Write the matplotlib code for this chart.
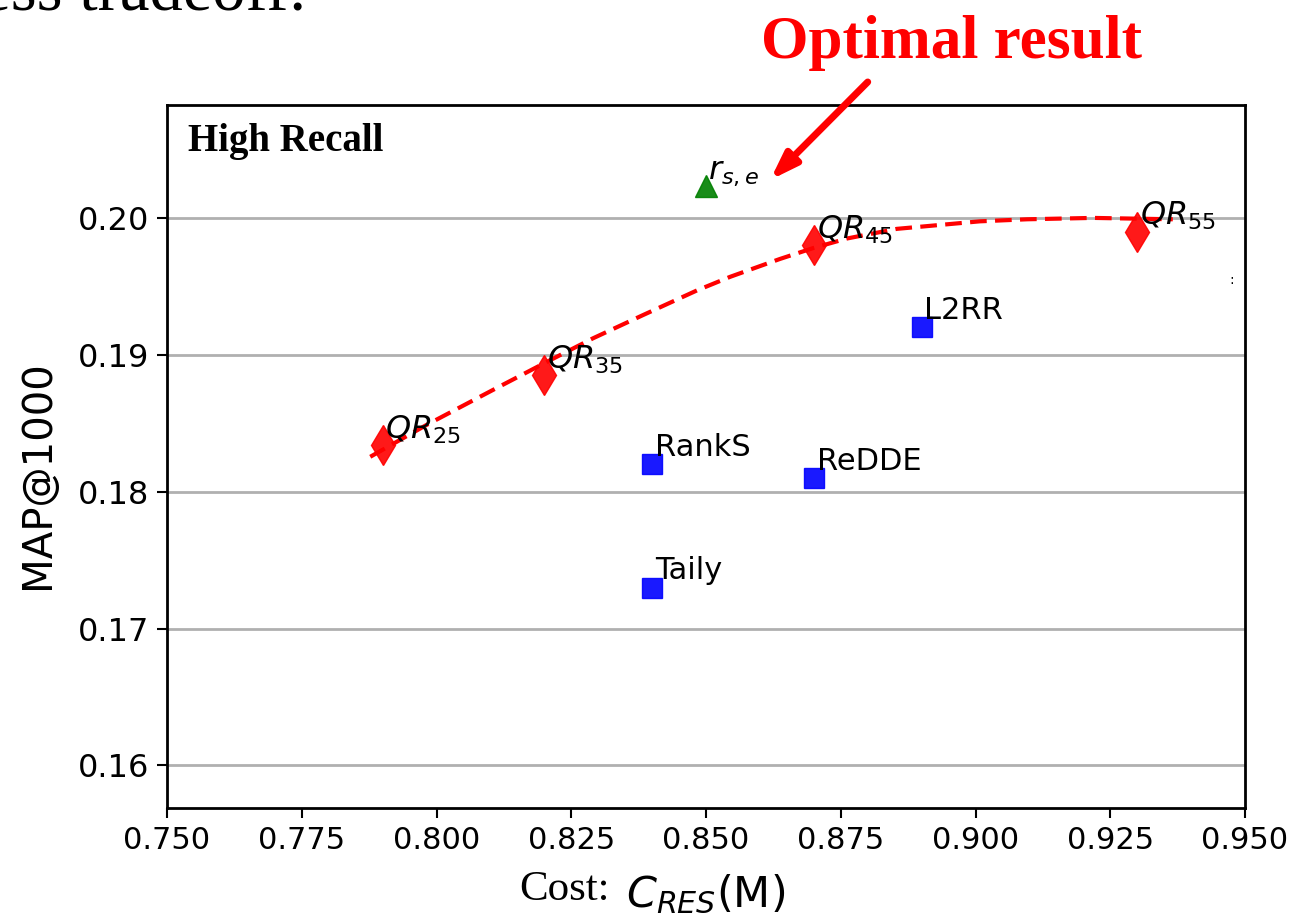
import matplotlib.pyplot as plt

# QR points (diamonds)
qr_cost = [0.79, 0.82, 0.87, 0.93]
qr_map = [0.1834, 0.1885, 0.198, 0.199]
qr_labels = ["$QR_{25}$", "$QR_{35}$", "$QR_{45}$", "$QR_{55}$"]

# baselines (squares)
base_cost = [0.84, 0.87, 0.89, 0.84]
base_map = [0.182, 0.181, 0.192, 0.173]
base_labels = ["RankS", "ReDDE", "L2RR", "Taily"]

# r_{s,e} (triangle)
rse_cost = [0.85]
rse_map = [0.2023]

# dashed trend curve
curve_cost = [0.7877, 0.7982, 0.8105, 0.8205, 0.8290, 0.8383, 0.8483, 0.8545,
              0.8637, 0.8699, 0.8762, 0.8854, 0.9008, 0.9096, 0.9218, 0.9366]
curve_map = [0.18255, 0.18489, 0.18744, 0.18949, 0.1912, 0.1929, 0.1947,
             0.1957, 0.1970, 0.1978, 0.1985, 0.1992, 0.19975, 0.19990,
             0.20000, 0.19990]

fig = plt.figure(figsize=(12.95, 9.16), dpi=100)
ax = fig.add_axes([0.129, 0.118, 0.8324, 0.7674])

ax.grid(True, axis='y', color='#b0b0b0', lw=2)
ax.set_axisbelow(True)

ax.plot(curve_cost, curve_map, '--', color='red', lw=3, dashes=(4, 2))
ax.plot(qr_cost, qr_map, 'd', color='red', ms=20, alpha=0.9, ls='none')
ax.plot(base_cost, base_map, 's', color='blue', ms=15, alpha=0.9, ls='none')
ax.plot(rse_cost, rse_map, '^', color='green', ms=16, alpha=0.9, ls='none')

for x, y, s in zip(qr_cost, qr_map, qr_labels):
    ax.text(x + 0.0005, y + 0.0005, s, fontsize=23)
for x, y, s in zip(base_cost, base_map, base_labels):
    ax.text(x + 0.0005, y + 0.0006, s, fontsize=22)
ax.text(rse_cost[0] + 0.0004, rse_map[0] + 0.0006, "$r_{s,e}$", fontsize=23)

ax.set_xlim(0.75, 0.95)
ax.set_ylim(0.1569, 0.20825)
ax.set_xticks([0.75, 0.775, 0.8, 0.825, 0.85, 0.875, 0.9, 0.925, 0.95])
ax.set_yticks([0.16, 0.17, 0.18, 0.19, 0.20])
ax.tick_params(axis='x', labelsize=22, length=7, width=1.5, pad=6)
ax.tick_params(axis='y', labelsize=23, length=7, width=1.5, pad=6)
for sp in ax.spines.values():
    sp.set_linewidth(2)

ax.set_ylabel("MAP@1000", fontsize=29)
ax.yaxis.set_label_coords(-0.101, 0.474)
ax.set_xlabel("$C_{RES}$(M)", fontsize=31)
ax.xaxis.set_label_coords(0.5, -0.092)
fig.text(0.401, 0.018, "Cost:", fontsize=31, family='Liberation Serif')

ax.text(0.0195, 0.975, "High Recall", transform=ax.transAxes, fontsize=28,
        family='Liberation Serif', weight='bold', va='top')

# slide overlay
fig.text(0.735, 0.937, "Optimal result", fontsize=44, color='red',
         family='Liberation Serif', weight='bold', ha='center')
ax.annotate("", xy=(0.8619, 0.20277), xytext=(0.8800, 0.20993),
            annotation_clip=False,
            arrowprops=dict(arrowstyle='-|>,head_length=1.6,head_width=0.55',
                            color='red', lw=5, shrinkA=0, shrinkB=0))
fig.text(-0.04, 0.99, "ness tradeoff:", fontsize=48, family='Liberation Serif')
fig.text(0.949, 0.69, ":", fontsize=10)

fig.savefig("out.png", dpi=100)
